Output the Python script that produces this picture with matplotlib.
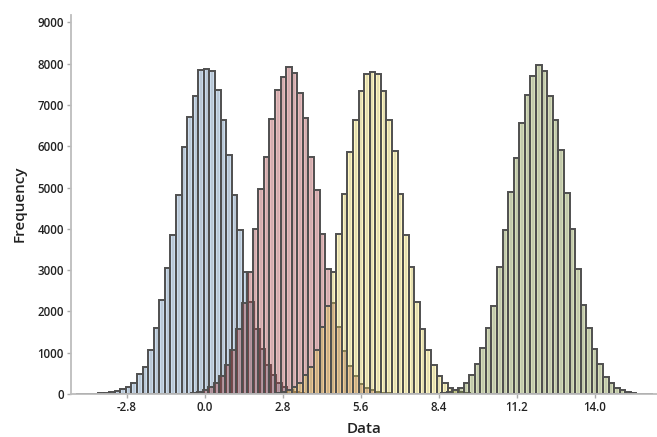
import numpy as np
import matplotlib
matplotlib.use("Agg")
import matplotlib.pyplot as plt

plt.rcParams['font.family'] = ['Open Sans', 'DejaVu Sans']

bin_width = 0.2

blue_first_edge = -4.63
blue_counts = [1, 2, 4, 8, 15, 30, 50, 80, 113, 162, 275, 477, 663, 1075, 1592, 2279,
               3047, 3855, 4808, 5972, 6707, 7208, 7855, 7870, 7814, 7353, 6642, 5778,
               4808, 3960, 2958, 2220, 1582, 1080, 710, 449, 272, 158, 89, 48, 25, 12, 6, 3, 1]

red_first_edge = -1.08
red_counts = [3, 6, 12, 25, 48, 90, 160, 270, 440, 700, 1060, 1568, 2200, 2966, 4000,
              4970, 5729, 6659, 7353, 7669, 7927, 7774, 7289, 6683, 5745, 4945, 3879,
              3022, 2200, 1632, 1042, 680, 440, 240, 150, 90, 51, 26, 13, 6, 3]

yellow_first_edge = 2.12
yellow_counts = [6, 12, 25, 50, 90, 160, 270, 460, 665, 1065, 1632, 2141, 2966, 3879,
                 4848, 5870, 6642, 7329, 7750, 7798, 7750, 7329, 6642, 5891, 4848, 3855,
                 3071, 2222, 1576, 1067, 703, 436, 259, 154, 90, 50, 25, 12, 6, 3]

green_first_edge = 7.89
green_counts = [3, 6, 12, 25, 48, 89, 137, 259, 460, 719, 1107, 1592, 2141, 3079, 3968,
                4897, 5713, 6570, 7232, 7709, 7976, 7814, 7210, 6642, 5915, 4865, 3984,
                3030, 2158, 1608, 1091, 719, 420, 259, 154, 90, 50, 25, 12, 6, 3]

x_ticks = [-2.8, 0.0, 2.8, 5.6, 8.4, 11.2, 14.0]
y_ticks = [0, 1000, 2000, 3000, 4000, 5000, 6000, 7000, 8000, 9000]

series = [
    (blue_first_edge, blue_counts, (98/255, 149/255, 201/255)),
    (red_first_edge, red_counts, (189/255, 52/255, 58/255)),
    (yellow_first_edge, yellow_counts, (255/255, 233/255, 69/255)),
    (green_first_edge, green_counts, (132/255, 155/255, 47/255)),
]

fig = plt.figure(figsize=(6.57, 4.37), dpi=100)
ax = fig.add_axes([70.7/657, 43/437, 1 - 70.7/657, (394 - 14.5)/437])

for first, counts, col in series:
    counts = np.asarray(counts, dtype=float)
    left = first + bin_width * np.arange(len(counts))
    ax.bar(left, counts, width=bin_width, align='edge',
           facecolor=(*col, 0.33), edgecolor='#4f4f4f', linewidth=1.4, zorder=2)
    # inner texture strokes
    ax.vlines(left + bin_width * 0.5, 0, counts, colors='#6a6a6a', alpha=0.2,
              linewidth=1.2, zorder=2)

ax.set_xlim(-4.81, 16.23)
ax.set_ylim(0, 9190)
ax.set_xticks(x_ticks)
ax.set_xticklabels([f"{v:.1f}" for v in x_ticks])
ax.set_yticks(y_ticks)
ax.set_yticklabels([str(v) for v in y_ticks])

for s in ['top', 'right']:
    ax.spines[s].set_visible(False)
for s in ['left', 'bottom']:
    ax.spines[s].set_color('#bdbdbd')
    ax.spines[s].set_linewidth(1.3)

ax.tick_params(axis='both', colors='#aaaaaa', length=3, width=1, labelsize=8.3,
               labelcolor='#222222', pad=2)
for lab in ax.get_xticklabels() + ax.get_yticklabels():
    lab.set_fontweight('semibold')

ax.set_xlabel('Data', fontsize=11, fontweight='semibold', color='#222222', labelpad=6)
ax.set_ylabel('Frequency', fontsize=11, fontweight='semibold', color='#222222', labelpad=8)

fig.savefig('out.png', dpi=100)
